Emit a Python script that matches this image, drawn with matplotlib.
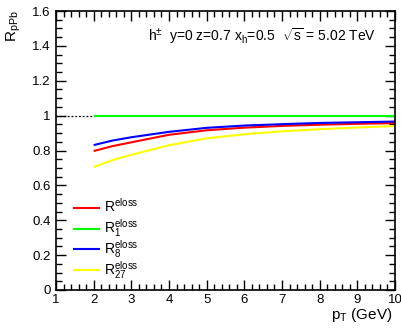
import matplotlib
matplotlib.use("Agg")
import matplotlib.pyplot as plt
from matplotlib.ticker import MultipleLocator
from matplotlib.lines import Line2D

plt.rcParams['font.family'] = ['Liberation Sans', 'DejaVu Sans']
plt.rcParams['mathtext.fontset'] = 'custom'
plt.rcParams['mathtext.rm'] = 'Liberation Sans'
plt.rcParams['mathtext.it'] = 'Liberation Sans'
plt.rcParams['mathtext.default'] = 'regular'

pt = [2, 2.5, 3, 4, 5, 6, 7, 8, 9, 10]
r_eloss = [0.797, 0.825, 0.847, 0.890, 0.916, 0.931, 0.941, 0.948, 0.953, 0.957]
r1_eloss = [1.0, 1.0, 1.0, 1.0, 1.0, 1.0, 1.0, 1.0, 1.0, 1.0]
r8_eloss = [0.831, 0.857, 0.876, 0.907, 0.930, 0.943, 0.951, 0.958, 0.962, 0.966]
r27_eloss = [0.705, 0.745, 0.775, 0.830, 0.870, 0.893, 0.910, 0.922, 0.932, 0.940]
ref_x = [1, 2]
ref_y = [1.0, 1.0]
labels = [r'$R^{eloss}$', r'$R_1^{eloss}$', r'$R_8^{eloss}$', r'$R_{27}^{eloss}$']
colors = ['#ff0000', '#00ff00', '#0000ff', '#ffff00']

W, H = 401, 328
fig = plt.figure(figsize=(W/100, H/100), dpi=100)
ax = fig.add_axes([56/W, 38/H, (395-56)/W, (290-11)/H])

ax.plot(ref_x, ref_y, color='black', lw=0.9, ls=(0, (1.5, 1.5)))
series = [r_eloss, r1_eloss, r8_eloss, r27_eloss]
for ys, c in zip(series, colors):
    ax.plot(pt, ys, color=c, lw=1.5, solid_capstyle='butt')

ax.set_xlim(1, 10)
ax.set_ylim(0, 1.6)
ax.xaxis.set_major_locator(MultipleLocator(1))
ax.xaxis.set_minor_locator(MultipleLocator(0.2))
ax.yaxis.set_major_locator(MultipleLocator(0.2))
ax.yaxis.set_minor_locator(MultipleLocator(0.05))
ax.tick_params(which='both', direction='in', top=True, right=True, labelsize=9.5)
ax.tick_params(which='major', length=7, width=1)
ax.tick_params(which='minor', length=4, width=1)
ax.tick_params(axis='x', pad=3)
ax.tick_params(axis='y', pad=4)
for s in ax.spines.values():
    s.set_linewidth(1.2)

def fmt(v, pos):
    s = f'{v:.1f}'
    if s.endswith('.0'):
        s = s[:-2]
    return s
ax.yaxis.set_major_formatter(plt.FuncFormatter(fmt))
ax.xaxis.set_major_formatter(plt.FuncFormatter(lambda v, p: f'{v:.0f}'))

ax.text(148/W, 1 - 36/H, r'$h^{\pm}$  y=0 z=0.7 $x_h$=0.5  $\sqrt{s}$ = 5.02 TeV',
        transform=fig.transFigure, ha='left', va='center', fontsize=10)

# legend (drawn manually to match ROOT layout)
for i, (lab, c) in enumerate(zip(labels, colors)):
    yl = 207.7 + i * 20.8
    fig.add_artist(Line2D([74/W, 99/W], [1 - yl/H, 1 - yl/H], color=c, lw=1.5,
                          transform=fig.transFigure))
    fig.text(104/W, 1 - (yl + 4.5)/H, lab, ha='left', va='baseline', fontsize=10)

fig.text(14/W, 1 - 10/H, r'$R_{pPb}$', rotation=90, ha='center', va='top', fontsize=11)
fig.text(393/W, 1 - 315/H, r'$p_T$ (GeV)', ha='right', va='center', fontsize=11)

fig.savefig('out.png', dpi=100)
